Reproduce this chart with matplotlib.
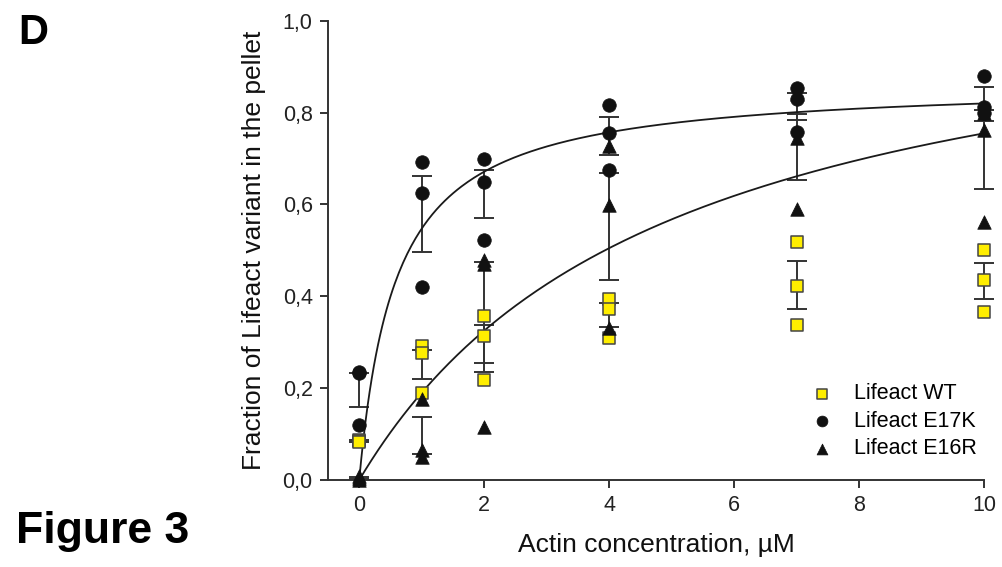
import numpy as np
import matplotlib
matplotlib.use("Agg")
import matplotlib.pyplot as plt

plt.rcParams['font.family'] = ['Liberation Sans', 'DejaVu Sans']

# Actin concentrations (uM) and replicate pellet fractions
conc = [0, 1, 2, 4, 7, 10]

wt_vals = [[0.088, 0.085, 0.082],
           [0.291, 0.276, 0.190],
           [0.358, 0.313, 0.217],
           [0.395, 0.373, 0.310],
           [0.518, 0.422, 0.337],
           [0.500, 0.435, 0.366]]

e17k_vals = [[0.235, 0.233, 0.120],
             [0.693, 0.626, 0.420],
             [0.698, 0.649, 0.522],
             [0.816, 0.756, 0.675],
             [0.853, 0.830, 0.757],
             [0.879, 0.812, 0.800]]

e16r_vals = [[0.008, 0.004, 0.000],
             [0.177, 0.065, 0.050],
             [0.480, 0.471, 0.115],
             [0.727, 0.598, 0.332],
             [0.840, 0.745, 0.591],
             [0.800, 0.762, 0.562]]

# hyperbolic binding fits (Bmax, Kd)
fit_e17k = (0.868, 0.586)
fit_e16r = (1.127, 4.93)

labels = ['Lifeact WT', 'Lifeact E17K', 'Lifeact E16R']

fig = plt.figure(figsize=(10.03, 5.67), dpi=100)
ax = fig.add_axes([0.327, 0.1534, 0.654, 0.810])

dark = '#333333'

# error bars (mean +/- SEM), drawn without a centre marker
for vals in (wt_vals, e17k_vals, e16r_vals):
    arr = np.array(vals)
    mean = arr.mean(axis=1)
    sem = arr.std(axis=1, ddof=1) / np.sqrt(arr.shape[1])
    ax.errorbar(conc, mean, yerr=sem, fmt='none', ecolor=dark, elinewidth=1.4,
                capsize=7, capthick=1.4, zorder=2, clip_on=False)

# fitted curves
xs = np.linspace(0, 10, 300)
for bmax, kd in (fit_e17k, fit_e16r):
    ax.plot(xs, bmax * xs / (kd + xs), color='#1a1a1a', lw=1.3, zorder=3)

# replicate points
def reps(vals):
    xx = [c for c, v in zip(conc, vals) for _ in v]
    yy = [y for v in vals for y in v]
    return xx, yy

x, y = reps(wt_vals)
ax.scatter(x, y, marker='s', s=85, facecolor='#ffee00', edgecolor='#444444',
           linewidth=1.1, zorder=4, clip_on=False, label=labels[0])
x, y = reps(e17k_vals)
ax.scatter(x, y, marker='o', s=95, facecolor='#111111', edgecolor='#111111',
           linewidth=0.5, zorder=5, clip_on=False, label=labels[1])
x, y = reps(e16r_vals)
ax.scatter(x, y, marker='^', s=95, facecolor='#111111', edgecolor='#111111',
           linewidth=0.5, zorder=5, clip_on=False, label=labels[2])

ax.set_xlim(-0.5, 10)
ax.set_ylim(0, 1.0)
ax.set_xticks([0, 2, 4, 6, 8, 10])
ax.set_yticks([0, 0.2, 0.4, 0.6, 0.8, 1.0])
ax.set_yticklabels(['0,0', '0,2', '0,4', '0,6', '0,8', '1,0'])

for s in ['top', 'right']:
    ax.spines[s].set_visible(False)
for s in ['left', 'bottom']:
    ax.spines[s].set_color(dark)
    ax.spines[s].set_linewidth(1.4)
ax.tick_params(direction='out', length=6, width=1.4, color=dark,
               labelsize=15.5, labelcolor='#222222', pad=5)

ax.set_xlabel('Actin concentration, µM', fontsize=19, color='#111111', labelpad=12)
ax.set_ylabel('Fraction of Lifeact variant in the pellet', fontsize=19,
              color='#111111', labelpad=12)

ax.legend(loc='lower left', bbox_to_anchor=(0.736, 0.045), frameon=False,
          fontsize=15.5, handlelength=1.0, handletextpad=1.0, labelspacing=0.3,
          borderpad=0, borderaxespad=0, markerscale=0.8)

fig.text(0.018, 0.942, 'D', fontsize=30, fontweight='bold', va='center', ha='left')
fig.text(0.016, 0.062, 'Figure 3', fontsize=32, fontweight='bold', va='center', ha='left')

fig.savefig('out.png', dpi=100)
